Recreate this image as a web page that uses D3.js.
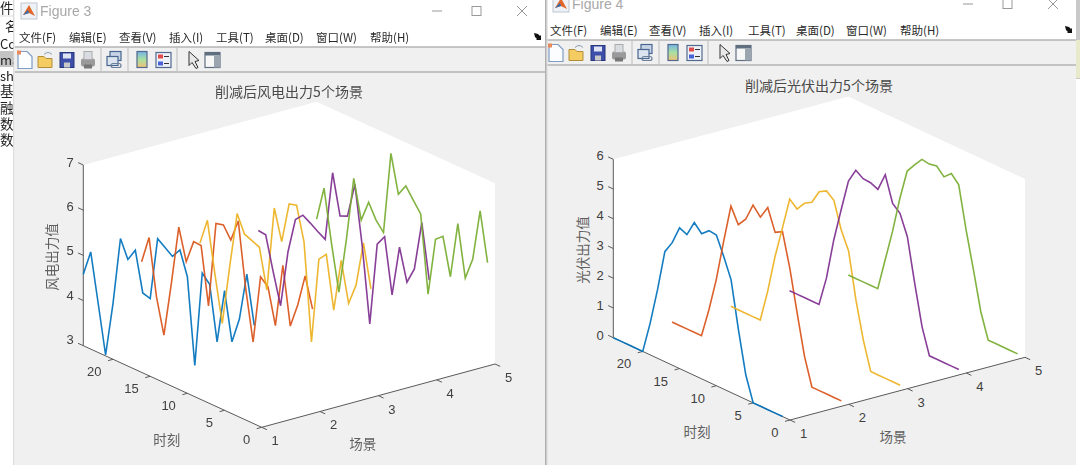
<!DOCTYPE html>
<html><head><meta charset="utf-8">
<script src="https://cdn.jsdelivr.net/npm/d3@7/dist/d3.min.js"></script>
<style>html,body{margin:0;padding:0;background:#fff;overflow:hidden}svg{display:block;filter:blur(0.35px)}</style>
</head><body><svg id="c" width="1080" height="465"></svg>
<script>
const hours=[24,23,22,21,20,19,18,17,16,15,14,13,12,11,10,9,8,7,6,5,4,3,2,1];
const scenes=[1,2,3,4,5];
const colors=["#0072BD","#D95319","#EDB120","#7E2F8E","#77AC30"];
const menus=["文件(F)","编辑(E)","查看(V)","插入(I)","工具(T)","桌面(D)","窗口(W)","帮助(H)"];
const hourTicks=[0,5,10,15,20];
const windTicks=[3,4,5,6,7];
const pvTicks=[0,1,2,3,4,5,6];
const wind1=[4.58,5.15,4.09,3.02,4.24,5.75,5.36,5.64,4.77,4.72,6.12,6.00,5.88,6.10,5.58,3.69,5.81,5.64,4.44,5.65,4.59,5.17,6.24,5.18];
const wind2=[4.51,5.12,3.88,3.11,4.33,5.65,4.96,5.48,5.47,4.21,6.11,6.15,5.89,6.39,4.97,3.86,5.38,5.23,4.45,5.86,4.59,5.13,5.85,5.19];
const wind3=[4.57,5.15,4.05,3.02,4.35,5.60,5.22,5.15,5.08,4.21,6.10,5.43,6.34,6.39,5.65,3.51,5.42,5.60,4.44,5.62,4.74,5.22,6.23,5.29];
const wind4=[4.50,4.48,3.74,3.06,4.33,5.12,5.29,5.19,5.08,4.98,6.53,5.65,5.72,6.50,5.19,3.56,5.40,5.64,4.43,5.56,4.86,5.23,6.33,5.13];
const wind5=[4.40,5.16,4.02,3.01,4.24,5.68,4.83,5.30,4.98,4.78,6.61,5.78,6.04,5.80,5.57,3.87,5.16,5.30,4.48,5.73,4.60,5.09,6.24,5.17];
const pv1=[0,0,0,0,0,1.06,2.30,3.70,4.12,4.73,4.62,5.14,4.88,5.10,5.07,4.46,3.79,2.22,0.82,0,0,0,0,0];
const pv2=[0,0,0,0,0,0.98,2.11,3.51,4.82,4.31,4.61,5.20,4.91,5.35,4.63,4.77,3.65,2.25,0.91,0,0,0,0,0];
const pv3=[0,0,0,0,0,1.07,2.36,3.43,4.53,4.31,4.62,4.77,5.24,5.38,5.18,4.30,3.71,2.17,0.94,0,0,0,0,0];
const pv4=[0,0,0,0,0,0.99,2.39,3.52,4.61,5.09,4.92,4.90,4.79,5.40,4.55,4.33,3.66,2.21,0.86,0,0,0,0,0];
const pv5=[0,0,0,0,0,1.08,2.15,3.38,4.42,4.74,5.04,5.00,5.05,4.80,5.03,4.76,3.36,2.13,0.84,0,0,0,0,0];

const svg=d3.select("#c");
const CJK="'Noto Sans CJK SC','Noto Sans',sans-serif", LAT="'Liberation Sans',Arial,sans-serif";

function text(g,s,x,y,o={}){
  return g.append("text").attr("x",x).attr("y",y).attr("dominant-baseline","central")
   .attr("font-family",o.font||CJK).attr("font-size",o.size||12).attr("fill",o.fill||"#333")
   .attr("text-anchor",o.anchor||"start").attr("font-weight",o.weight||400).text(s);
}
// Background application showing at the far left
const bg=svg.append("g");
bg.append("rect").attr("x",0).attr("y",51).attr("width",16).attr("height",16).attr("fill","#c4c4c4");
[["件",0,7],["名",5,25],["Co",0,43],["ma",0,59],["sh",0,75],["基",0,90],["融",0,107],["数",0,123],["数",0,139]]
 .forEach(d=>text(bg,d[0],d[1],d[2],{size:d[1]===0&&d[0].length===1?13.5:13,fill:"#222"}));
bg.append("line").attr("x1",0).attr("x2",14).attr("y1",16).attr("y2",16).attr("stroke","#ddd");
// Strip on the right of the screen
svg.append("rect").attr("x",1076).attr("y",0).attr("width",4).attr("height",79).attr("fill","#c9c9c9");
svg.append("rect").attr("x",1076).attr("y",40).attr("width",4).attr("height",38).attr("fill","#e9e9cc");

function icons(g){
  const seps=[101,128,177];
  seps.forEach(x=>g.append("line").attr("x1",x).attr("x2",x).attr("y1",-12).attr("y2",12).attr("stroke","#bcbcbc"));
  // new
  g.append("path").attr("d","M18 -8H27L32 -3V9H18Z").attr("fill","#fbfdff").attr("stroke","#7f9dc5").attr("stroke-width",1.2);
  g.append("rect").attr("x",17).attr("y",-9).attr("width",4).attr("height",4).attr("fill","#e98a5a");
  // open
  g.append("path").attr("d","M38 8V-3H44L46 -1H52V8Z").attr("fill","#f4cc62").attr("stroke","#b08f38");
  g.append("path").attr("d","M44 -5Q48 -9 52 -5").attr("fill","none").attr("stroke","#8aa0b8");
  // save
  g.append("rect").attr("x",60).attr("y",-7).attr("width",14).attr("height",15).attr("fill","#3d4fa8").attr("stroke","#27357a");
  g.append("rect").attr("x",63).attr("y",-6).attr("width",8).attr("height",5).attr("fill","#dfe4f5");
  g.append("rect").attr("x",64).attr("y",3).attr("width",6).attr("height",5).attr("fill","#c8c8c8");
  // print
  g.append("rect").attr("x",81).attr("y",-1).attr("width",14).attr("height",8).attr("rx",2).attr("fill","#9a9a9a");
  g.append("rect").attr("x",84).attr("y",-8).attr("width",8).attr("height",8).attr("fill","#d9dde2").attr("stroke","#aaa");
  g.append("rect").attr("x",84).attr("y",5).attr("width",8).attr("height",4).attr("fill","#777");
  // link
  g.append("rect").attr("x",110).attr("y",-8).attr("width",11).attr("height",9).attr("fill","#c6d4e6").attr("stroke","#48668f").attr("stroke-width",1.2);
  g.append("rect").attr("x",107).attr("y",-3).attr("width",11).attr("height",9).attr("fill","#dbe4ef").attr("stroke","#48668f").attr("stroke-width",1.2);
  g.append("rect").attr("x",111).attr("y",4).attr("width",10).attr("height",4).attr("rx",2).attr("fill","none").attr("stroke","#6b7f99").attr("stroke-width",1.2);
  // colorbar
  const id="cb"+g.attr("transform").length+"_"+d3.selectAll("linearGradient").size();
  const gr=g.append("linearGradient").attr("id",id).attr("x1",0).attr("x2",0).attr("y1",0).attr("y2",1);
  [["0","#76b3e8"],["0.5","#a8e0a0"],["1","#f2c177"]].forEach(s=>gr.append("stop").attr("offset",s[0]).attr("stop-color",s[1]));
  g.append("rect").attr("x",137).attr("y",-8).attr("width",10).attr("height",16).attr("fill",`url(#${id})`).attr("stroke","#51698e").attr("stroke-width",1.2);
  // legend
  g.append("rect").attr("x",156).attr("y",-7).attr("width",15).attr("height",15).attr("fill","#eef2f8").attr("stroke","#51698e").attr("stroke-width",1.2);
  g.append("rect").attr("x",158).attr("y",-5).attr("width",5).attr("height",4).attr("fill","#e24b4b");
  g.append("rect").attr("x",158).attr("y",2).attr("width",5).attr("height",4).attr("fill","#4a62d8");
  g.append("line").attr("x1",164).attr("x2",169).attr("y1",-3).attr("y2",-3).attr("stroke","#333");
  g.append("line").attr("x1",164).attr("x2",169).attr("y1",4).attr("y2",4).attr("stroke","#333");
  // arrow
  g.append("path").attr("d","M189 -8V6L192 3L196 9L198 8L195 2L199 1Z").attr("fill","#e8e8e8").attr("stroke","#333").attr("stroke-width",1);
  // panel
  g.append("rect").attr("x",205).attr("y",-7).attr("width",15).attr("height",15).attr("fill","#f7f7f7").attr("stroke","#5f6f80").attr("stroke-width",1.2);
  g.append("rect").attr("x",205).attr("y",-7).attr("width",15).attr("height",3).attr("fill","#5f6f80");
  g.append("rect").attr("x",214).attr("y",-4).attr("width",6).attr("height",12).attr("fill","#9aa5b0");
}

function panel(cfg){
  const W=cfg.win;
  const g=svg.append("g");
  g.append("rect").attr("x",W.x).attr("y",-10).attr("width",W.w).attr("height",480).attr("fill","#f0f0f0");
  g.append("rect").attr("x",W.x).attr("y",-10).attr("width",W.w).attr("height",W.line1+10).attr("fill","#fff");
  g.append("line").attr("x1",W.x).attr("x2",W.x+W.w).attr("y1",W.line1).attr("y2",W.line1).attr("stroke","#b4b4b4").attr("stroke-width",1.3);
  g.append("line").attr("x1",W.x).attr("x2",W.x+W.w).attr("y1",W.line2).attr("y2",W.line2).attr("stroke","#b4b4b4").attr("stroke-width",1.3);
  // shadow at the window's left edge
  W.shade.forEach((c,i)=>g.append("rect").attr("x",W.x-1+i).attr("y",-10).attr("width",1).attr("height",480).attr("fill",c).attr("fill-opacity",0.8));
  // title bar
  const ty=W.line1-36;
  g.append("rect").attr("x",W.x+7).attr("y",ty-8).attr("width",16).attr("height",16).attr("fill","#eef1f5").attr("stroke","#bfc6d0");
  g.append("path").attr("d",`M${W.x+9} ${ty+4}L${W.x+15} ${ty-6}L${W.x+21} ${ty+5}L${W.x+15} ${ty+2}Z`).attr("fill","#e2662a");
  g.append("path").attr("d",`M${W.x+9} ${ty+4}L${W.x+14} ${ty-1}L${W.x+15} ${ty+2}Z`).attr("fill","#2a6fb5");
  text(g,cfg.fig,W.x+26,ty,{font:LAT,size:14,fill:"#a8a8a8"});
  g.append("line").attr("x1",W.x+W.w-113).attr("x2",W.x+W.w-103).attr("y1",ty).attr("y2",ty).attr("stroke","#999");
  g.append("rect").attr("x",W.x+W.w-73).attr("y",ty-4.5).attr("width",9).attr("height",9).attr("fill","none").attr("stroke","#999");
  g.append("path").attr("d",`M${W.x+W.w-28} ${ty-5}l10 10M${W.x+W.w-18} ${ty-5}l-10 10`).attr("stroke","#999").attr("fill","none");
  // menu
  menus.forEach((m,i)=>text(g,m,W.menuX[i],W.line1-10.5,{size:11.5,fill:"#2a2a2a"}));
  g.append("path").attr("d",`M${W.x+W.w-11} ${W.line1-14}l4 1l2 2l1 -1v5h-5l1 -1l-2 -2z`).attr("fill","#111");
  icons(g.append("g").attr("transform",`translate(${W.iconDx},${(W.line1+W.line2)/2})`));

  // axes, by oblique projection of the three data axes
  const [x0,y0]=cfg.origin;
  const sX=d3.scaleLinear().domain([1,5]).range([0,cfg.s5[0]-x0]);
  const sY=d3.scaleLinear().domain([1,5]).range([0,cfg.s5[1]-y0]);
  const tX=d3.scaleLinear().domain([0,24]).range([0,cfg.t24[0]-x0]);
  const tY=d3.scaleLinear().domain([0,24]).range([0,cfg.t24[1]-y0]);
  const zY=d3.scaleLinear().domain(cfg.zDomain).range([0,cfg.zTop-cfg.t24[1]]);
  const zLab=d3.scaleLinear().domain(cfg.zDomain).range(cfg.zLabelDy);
  const px=(s,t)=>x0+sX(s)+tX(t);
  const py=(s,t,z)=>y0+sY(s)+tY(t)+zY(z);
  const [z0,z1]=cfg.zDomain;
  const poly=[[1,0,z0],[5,0,z0],[5,0,z1],[5,24,z1],[1,24,z1],[1,24,z0]];
  g.append("path").attr("d",d3.line()(poly.map(p=>[px(p[0],p[1]),py(p[0],p[1],p[2])]))+"Z").attr("fill","#fff");
  const ax=g.append("g").attr("stroke","#5a5a5a").attr("stroke-width",1).attr("fill","none");
  const seg=(a,b)=>ax.append("line").attr("x1",px(a[0],a[1])).attr("y1",py(a[0],a[1],a[2])).attr("x2",px(b[0],b[1])).attr("y2",py(b[0],b[1],b[2]));
  seg([1,0,z0],[5,0,z0]); seg([1,0,z0],[1,24,z0]); seg([1,24,z0],[1,24,z1]);
  const lab={font:LAT,size:13,fill:"#404040"};
  hourTicks.forEach(t=>{
    seg([1,t,z0],[0.915,t,z0]);
    text(g,t,px(1,t)-11.5,py(1,t,z0)+12.5,{...lab,anchor:"end"});
  });
  scenes.forEach(s=>{
    seg([s,0,z0],[s,-0.7,z0]);
    text(g,s,px(s,0)+13.5,py(s,0,z0)+13.5,{...lab,anchor:"middle"});
  });
  cfg.zTicks.forEach(z=>{
    seg([1,24,z],[1,24.7,z]);
    text(g,z,px(1,24)-9.5,py(1,24,z)+zLab(z),{...lab,anchor:"end"});
  });
  // lines
  const line=d3.line();
  cfg.series.forEach((v,i)=>{
    const s=scenes[i];
    g.append("path").attr("d",line(v.map((z,k)=>[px(s,hours[k]),py(s,hours[k],z)])))
      .attr("fill","none").attr("stroke",colors[i]).attr("stroke-opacity",0.92).attr("stroke-width",1.6).attr("stroke-linejoin","miter");
  });
  // texts
  const cap={size:13.5,fill:"#606060"};
  g.append("text").attr("x",cfg.title[0]).attr("y",cfg.title[1]).attr("text-anchor","middle").attr("dominant-baseline","central")
    .attr("font-family",CJK).attr("font-size",14).attr("fill","#4a4a4a").text(cfg.titleText);
  text(g,"时刻",cfg.tLabel[0],cfg.tLabel[1],{...cap,anchor:"middle"});
  text(g,"场景",cfg.sLabel[0],cfg.sLabel[1],{...cap,anchor:"middle"});
  g.append("text").attr("transform",`translate(${cfg.zLabel[0]},${cfg.zLabel[1]}) rotate(-90)`).attr("text-anchor","middle").attr("dominant-baseline","central")
    .attr("font-family",CJK).attr("font-size",13.5).attr("fill","#606060").text(cfg.zText);
}

panel({fig:"Figure 3",
 win:{x:14,w:531,line1:47,line2:72,iconDx:0,menuX:[19,69,119,169,216,265,316,370],shade:["#d4d4d4","#ececec"]},
 origin:[261.7,427.3],s5:[495,364],t24:[83.3,345.7],zTop:165,zDomain:[3,7],zTicks:windTicks,zLabelDy:[-6.5,-2.5],
 series:[wind1,wind2,wind3,wind4,wind5],
 title:[289,91],titleText:"削减后风电出力5个场景",tLabel:[166.7,439],sLabel:[362.7,443],zLabel:[51,257],zText:"风电出力值"});
panel({fig:"Figure 4",
 win:{x:546,w:530,line1:40,line2:65,iconDx:531,menuX:[550,600,649,699,748,796,846,900],shade:["#9c9c9c","#c4c4c4","#e0e0e0"]},
 origin:[790,420],s5:[1025,357.3],t24:[613.3,337.7],zTop:159.3,zDomain:[0,6],zTicks:pvTicks,zLabelDy:[-2,-3.6],
 series:[pv1,pv2,pv3,pv4,pv5],
 title:[819,85],titleText:"削减后光伏出力5个场景",tLabel:[697,431],sLabel:[893,436],zLabel:[582,250],zText:"光伏出力值"});
</script></body></html>
